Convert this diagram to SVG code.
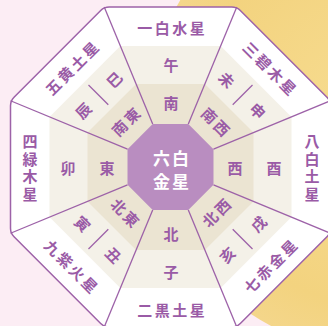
<svg xmlns="http://www.w3.org/2000/svg" width="328" height="326" viewBox="0 0 328 326">
<defs>
<radialGradient id="yel" cx="380" cy="120" r="233" gradientUnits="userSpaceOnUse">
<stop offset="0" stop-color="#F7DD92"/>
<stop offset="0.8" stop-color="#F3D37F"/>
<stop offset="1" stop-color="#F4D68A"/>
</radialGradient>
<style>
.t{font-family:"Noto Sans CJK JP","Noto Sans CJK SC",sans-serif;font-size:15px;font-weight:700;fill:#9A5BA6;text-anchor:middle;dominant-baseline:central}
.w{fill:#FFFFFF;font-size:17px}
.ln{stroke:#9D62A8;stroke-width:1.3;fill:none}
</style>
</defs>
<g id="background">
<rect x="0" y="0" width="328" height="326" fill="#FCEDF4"/>
<circle cx="380" cy="120" r="233" fill="url(#yel)"/>
</g>
<g id="rings">
<path d="M14.04,97.19 L100.69,10.54 Q104.23,7 109.23,7 L231.77,7 Q236.77,7 240.31,10.54 L326.96,97.19 Q330.5,100.73 330.5,105.73 L330.5,228.27 Q330.5,233.27 326.96,236.81 L240.31,323.46 Q236.77,327 231.77,327 L109.23,327 Q104.23,327 100.69,323.46 L14.04,236.81 Q10.5,233.27 10.5,228.27 L10.5,105.73 Q10.5,100.73 14.04,97.19 Z" fill="#FFFFFF" stroke="#9D62A8" stroke-width="1.5"/>
<polygon points="120.38,46 220.62,46 291.5,116.88 291.5,217.12 220.62,288 120.38,288 49.5,217.12 49.5,116.88" fill="#F4F1E8"/>
<polygon points="136.12,84 204.88,84 253.5,132.62 253.5,201.38 204.88,250 136.12,250 87.5,201.38 87.5,132.62" fill="#EBE4D2"/>
</g>
<g id="connectors" class="ln">
<line x1="152.69" y1="124" x2="104.23" y2="7"/>
<line x1="188.31" y1="124" x2="236.77" y2="7"/>
<line x1="213.5" y1="149.19" x2="330.5" y2="100.73"/>
<line x1="213.5" y1="184.81" x2="330.5" y2="233.27"/>
<line x1="188.31" y1="210" x2="236.77" y2="327"/>
<line x1="152.69" y1="210" x2="104.23" y2="327"/>
<line x1="127.5" y1="184.81" x2="10.5" y2="233.27"/>
<line x1="127.5" y1="149.19" x2="10.5" y2="100.73"/>
<line x1="88.5" y1="85" x2="108.3" y2="104.8"/>
<line x1="232.7" y1="104.8" x2="252.5" y2="85"/>
<line x1="232.7" y1="229.2" x2="252.5" y2="249"/>
<line x1="88.5" y1="249" x2="108.3" y2="229.2"/>
</g>
<g id="center">
<polygon points="152.69,124 188.31,124 213.5,149.19 213.5,184.81 188.31,210 152.69,210 127.5,184.81 127.5,149.19" fill="#B98DC0"/>
<text class="t w" x="161.5 180.5" y="157">六白</text>
<text class="t w" x="161.5 180.5" y="180">金星</text>
</g>
<g id="south">
<text class="t" x="144.75 162.25 179.75 197.25" y="27.5">一白水星</text>
<text class="t" x="171" y="64">午</text>
<text class="t" x="171" y="102">南</text>
</g>
<g id="north">
<text class="t" x="144.75 162.25 179.75 197.25" y="309">二黒土星</text>
<text class="t" x="171" y="271">子</text>
<text class="t" x="171" y="233">北</text>
</g>
<g id="east">
<text class="t" x="30 30 30 30" y="140.75 158.25 175.75 193.25">四緑木星</text>
<text class="t" x="68" y="167">卯</text>
<text class="t" x="107" y="167">東</text>
</g>
<g id="west">
<text class="t" x="312 312 312 312" y="140.75 158.25 175.75 193.25">八白土星</text>
<text class="t" x="274" y="167">酉</text>
<text class="t" x="235" y="167">西</text>
</g>
<g id="southeast">
<text class="t" transform="translate(71.5,68) rotate(-45)" x="-26.25 -8.75 8.75 26.25" y="0">五黄土星</text>
<text class="t" transform="translate(98.4,94.9) rotate(-45)" x="-22 22" y="0">辰巳</text>
<text class="t" transform="translate(125.5,121.5) rotate(-45)" x="-8.75 8.75" y="0">南東</text>
</g>
<g id="southwest">
<text class="t" transform="translate(270,68) rotate(45)" x="-26.25 -8.75 8.75 26.25" y="0">三碧木星</text>
<text class="t" transform="translate(242.6,94.9) rotate(45)" x="-22 22" y="0">未申</text>
<text class="t" transform="translate(216,121.5) rotate(45)" x="-8.75 8.75" y="0">南西</text>
</g>
<g id="northwest">
<text class="t" transform="translate(270,266) rotate(-45)" x="-26.25 -8.75 8.75 26.25" y="0">七赤金星</text>
<text class="t" transform="translate(242.6,239.1) rotate(-45)" x="-22 22" y="0">亥戌</text>
<text class="t" transform="translate(216,212.5) rotate(-45)" x="-8.75 8.75" y="0">北西</text>
</g>
<g id="northeast">
<text class="t" transform="translate(71.5,266) rotate(45)" x="-26.25 -8.75 8.75 26.25" y="0">九紫火星</text>
<text class="t" transform="translate(98.4,239.1) rotate(45)" x="-22 22" y="0">寅丑</text>
<text class="t" transform="translate(125.5,212.5) rotate(45)" x="-8.75 8.75" y="0">北東</text>
</g>
</svg>
